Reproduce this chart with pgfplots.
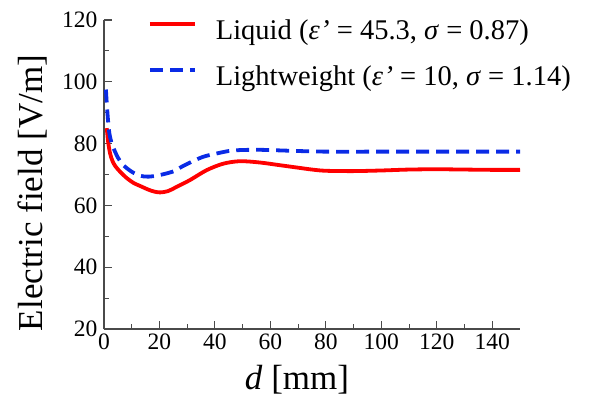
\documentclass[border=0pt]{standalone}
\usepackage{pgfplots}
\pgfplotsset{compat=1.18}
\usepackage{fontspec}
\setmainfont{Liberation Serif}
\definecolor{axgray}{HTML}{4A4A4A}
\definecolor{myred}{HTML}{FF0000}
\definecolor{myblue}{HTML}{0A2BE6}
\begin{document}
\begin{tikzpicture}
\begin{axis}[
  name=ax,
  scale only axis,
  width=416bp, height=309bp,
  xmin=0, xmax=150, ymin=20, ymax=120,
  xtick={0,20,...,140}, ytick={20,40,...,120},
  minor x tick num=1, minor y tick num=1,
  axis x line*=bottom, axis y line*=left,
  axis line style={axgray, line width=1.6bp, -},
  tick style={axgray, line width=1.1bp},
  tick align=inside,
  major tick length=8bp, minor tick length=5bp,
  /pgf/number format/assume math mode=true,
  ticklabel style={font=\fontsize{23.5bp}{27bp}\selectfont},
  xticklabel style={yshift=-1bp},
  yticklabel style={xshift=-3bp},
  xlabel={\textit{d} [mm]},
  ylabel={Electric field [V/m]},
  label style={font=\fontsize{35bp}{40bp}\selectfont},
  xlabel style={at={(axis description cs:0.464,-0.197)}, anchor=base},
  ylabel style={at={(axis description cs:-0.147,0.44)}, anchor=base},
  legend style={draw=none, fill=none, at={(axis description cs:0.106,1.003)}, anchor=north west,
    font=\fontsize{28.5bp}{33bp}\selectfont, inner sep=0pt, outer sep=0pt,
    nodes={inner sep=0pt, text height=20bp, text depth=6bp},
    row sep=20bp,
    /tikz/every odd column/.style={column sep=19bp}},
  legend cell align=left,
  legend image code/.code={\draw[#1] (0bp,8bp) -- (45bp,8bp);},
]
\addplot[myred, line width=3.8bp, smooth] coordinates {
(1,85) (1.5,80.5) (2.2,76.8) (3,74.5) (4,72.8) (5.8,70.9) (8,69) (10.6,67.3) (13,66.3) (16,65.1) (18,64.5) (20.2,64.2) (23,64.6) (26,65.9) (31,68.2) (37,71.4) (43,73.5) (49,74.3) (56,73.9) (63.5,73.0) (70,72.2) (75,71.6) (80,71.2) (90,71.1) (100,71.3) (110,71.6) (120,71.7) (130,71.6) (140,71.5) (150,71.5)
};
\addlegendentry{Liquid (\textit{ε\kern0.5bp\symbol{39}} = 45.3, \textit{σ} = 0.87)}
\addplot[myblue, line width=3.8bp, dash pattern=on 13bp off 7bp, smooth] coordinates {
(0.7,97.5) (1,93) (1.5,87) (2,83) (3,79.5) (5,75.5) (7,73) (10,70.9) (13,69.6) (16,69.3) (20,69.8) (25,71.0) (28,72.5) (32,74.3) (36,75.8) (40.6,76.8) (45,77.6) (49,77.9) (55,78.0) (60,77.9) (70,77.6) (80,77.4) (100,77.4) (120,77.4) (150,77.4)
};
\addlegendentry{Lightweight (\textit{ε\kern0.5bp\symbol{39}} = 10, \textit{σ} = 1.14)}
\end{axis}
\path[use as bounding box] ([shift={(-104bp,-69bp)}]ax.south west) rectangle ([shift={(71bp,20bp)}]ax.north east);
\end{tikzpicture}
\end{document}
